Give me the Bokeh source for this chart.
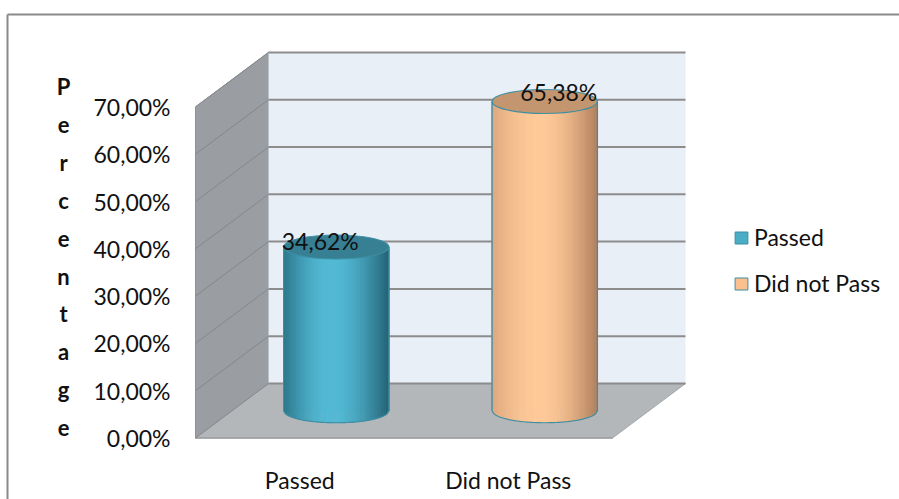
import math
from bokeh.plotting import figure
from bokeh.models import (ColumnDataSource, Range1d, LinearAxis, FixedTicker,
                          Legend, LegendItem)
from bokeh.core.properties import value
from bokeh.embed import file_html
from bokeh.resources import INLINE

# ---------------- data ----------------
categories = ["Passed", "Did not Pass"]
percentages = [34.62, 65.38]
y_ticks = [0, 10, 20, 30, 40, 50, 60, 70]
y_tick_labels = ["0,00%", "10,00%", "20,00%", "30,00%", "40,00%", "50,00%", "60,00%", "70,00%"]
axis_title = "Percentage"

# ---------------- styles / layout ----------------
base_colors = ["#4BACC6", "#FAC090"]
left_rgb = [(44, 118, 138), (222, 168, 128)]
high_rgb = [(84, 186, 213), (255, 202, 152)]
right_rgb = [(36, 98, 116), (176, 128, 95)]
top_colors = ["#377F92", "#C4966F"]
outline_color = "#3E8EA4"
FONT = "Lato"

W, H = 899, 499
FL, FT = 7, 14            # frame left / top in px
X0PX, Y0PX = 195.0, 437.5  # px of data origin on the front plane
XS, YS = 208.5, 4.73       # px per x unit, px per percent
DX, DY = 73 / XS, 54.5 / YS  # depth offset
BAR_W = 0.505
ELL_H = 24 / YS
N = len(categories)
YMAX = y_ticks[-1]

x_start, x_end = (FL - X0PX) / XS, (W - X0PX) / XS
y_start, y_end = (Y0PX - H) / YS, (Y0PX - FT) / YS

p = figure(width=W, height=H, x_range=Range1d(x_start, x_end), y_range=Range1d(y_start, y_end),
           output_backend="svg", toolbar_location=None, x_axis_type=None, y_axis_type=None,
           min_border_left=FL, min_border_top=FT, min_border_right=0, min_border_bottom=0)
p.outline_line_color = None
p.background_fill_color = "white"
p.border_fill_color = "white"

# outer chart border (left & top edges)
for loc in ("left", "above"):
    ax = LinearAxis(ticker=FixedTicker(ticks=[]), axis_line_color="#8A8A8A", axis_line_width=2,
                    major_tick_out=0, major_tick_in=0, minor_tick_out=0, minor_tick_in=0,
                    major_label_standoff=0, major_label_text_font_size="0px")
    p.add_layout(ax, loc)

# ---------------- 3D walls ----------------
p.patch([0, DX, DX, 0], [0, DY, YMAX + DY, YMAX], fill_color="#9A9DA1", line_color="#8E9195", line_width=1)
p.patch([0, N, N + DX, DX], [0, 0, DY, DY], fill_color="#B4B7BA", line_color="#A3A6A9", line_width=1)
p.quad(left=DX, right=N + DX, bottom=DY, top=YMAX + DY, fill_color="#E8EFF7", line_color=None)
# floor front edge
p.line([0, N], [0, 0], line_color="#9C9FA2", line_width=1.5)

# gridlines on back wall and side wall
p.segment(x0=[DX] * len(y_ticks), y0=[t + DY for t in y_ticks],
          x1=[N + DX] * len(y_ticks), y1=[t + DY for t in y_ticks],
          line_color="#8C8C8C", line_width=2)
p.segment(x0=[0] * len(y_ticks), y0=y_ticks,
          x1=[DX] * len(y_ticks), y1=[t + DY for t in y_ticks],
          line_color="#84878B", line_width=1)

# ---------------- cylinders ----------------
def mix(a, b, s):
    return "#%02x%02x%02x" % tuple(int(round(a[k] + (b[k] - a[k]) * s)) for k in range(3))

centers = [i + 0.5 + DX / 2 for i in range(N)]
bases = [DY / 2] * N
tops = [v + DY / 2 for v in percentages]

body_src = ColumnDataSource(dict(
    left=[c - BAR_W / 2 for c in centers], right=[c + BAR_W / 2 for c in centers],
    bottom=bases, top=tops, color=base_colors, category=categories))
body = p.quad(left="left", right="right", bottom="bottom", top="top", source=body_src,
              fill_color="color", line_color=outline_color, line_width=1)

NS = 60
for i in range(N):
    cx, yb, yt = centers[i], bases[i], tops[i]
    xs, ys, cols = [], [], []
    for k in range(NS):
        t0, t1 = k / NS, (k + 1) / NS
        tm = (t0 + t1) / 2
        if tm <= 0.45:
            s = math.sin(math.pi / 2 * tm / 0.45)
            col = mix(left_rgb[i], high_rgb[i], s)
        else:
            s = math.cos(math.pi / 2 * (tm - 0.45) / 0.55)
            col = mix(right_rgb[i], high_rgb[i], s)
        x0 = cx - BAR_W / 2 + t0 * BAR_W
        x1 = cx - BAR_W / 2 + t1 * BAR_W + 0.001
        b0 = yb - ELL_H / 2 * math.sqrt(max(0.0, 1 - (2 * t0 - 1) ** 2))
        b1 = yb - ELL_H / 2 * math.sqrt(max(0.0, 1 - (2 * min(t1, 1) - 1) ** 2))
        xs.append([x0, x1, x1, x0])
        ys.append([b0, b1, yt, yt])
        cols.append(col)
    p.patches(xs, ys, fill_color=cols, line_color=cols, line_width=0.5)
    # outline: lower arc + sides
    arc_x, arc_y = [], []
    for k in range(61):
        t = k / 60
        arc_x.append(cx - BAR_W / 2 + t * BAR_W)
        arc_y.append(yb - ELL_H / 2 * math.sqrt(max(0.0, 1 - (2 * t - 1) ** 2)))
    p.line(arc_x, arc_y, line_color=outline_color, line_width=1.2)
    p.segment(x0=[cx - BAR_W / 2, cx + BAR_W / 2], y0=[yb, yb],
              x1=[cx - BAR_W / 2, cx + BAR_W / 2], y1=[yt, yt],
              line_color=outline_color, line_width=1.2)

p.ellipse(x=centers, y=tops, width=BAR_W, height=ELL_H, fill_color=top_colors,
          line_color=outline_color, line_width=1.2)

# ---------------- texts ----------------
# y tick labels (front plane)
p.text(x=[-25 / XS] * len(y_ticks), y=y_ticks, text=y_tick_labels, text_align="right",
       text_baseline="middle", text_font=value(FONT), text_font_size="23px", text_color="#111111")

# category labels (front plane)
p.text(x=[i + 0.5 for i in range(N)], y=[-41.5 / YS] * N, text=categories, text_align="center",
       text_baseline="alphabetic", text_font=value(FONT), text_font_size="23px", text_color="#111111")

# data labels (decimal comma)
lab_dx = [-16, 14]
lab_dy = [5.5, 10]
p.text(x=[centers[i] + lab_dx[i] / XS for i in range(N)],
       y=[tops[i] + lab_dy[i] / YS for i in range(N)],
       text=[("%.2f" % v).replace(".", ",") + "%" for v in percentages],
       text_align="center", text_baseline="alphabetic",
       text_font=value(FONT), text_font_size="23px", text_color="#111111")

# vertical axis title, one letter per line
letters = list(axis_title)
p.text(x=[(63 - X0PX) / XS] * len(letters),
       y=[(Y0PX - (86 + 37.9 * k)) / YS for k in range(len(letters))],
       text=letters, text_align="center", text_baseline="alphabetic",
       text_font=value(FONT), text_font_size="22px", text_font_style="bold", text_color="#111111")

# ---------------- legend ----------------
legend = Legend(items=[LegendItem(label=c, renderers=[body], index=i) for i, c in enumerate(categories)],
                location=(726, 201), orientation="vertical", padding=0, margin=0, spacing=16,
                label_height=30, glyph_height=15, glyph_width=16, label_standoff=5,
                label_text_font=FONT, label_text_font_size="23px", label_text_color="#111111",
                border_line_color=None, background_fill_alpha=0)
p.add_layout(legend)

open("out.html", "w").write(file_html(p, INLINE))
